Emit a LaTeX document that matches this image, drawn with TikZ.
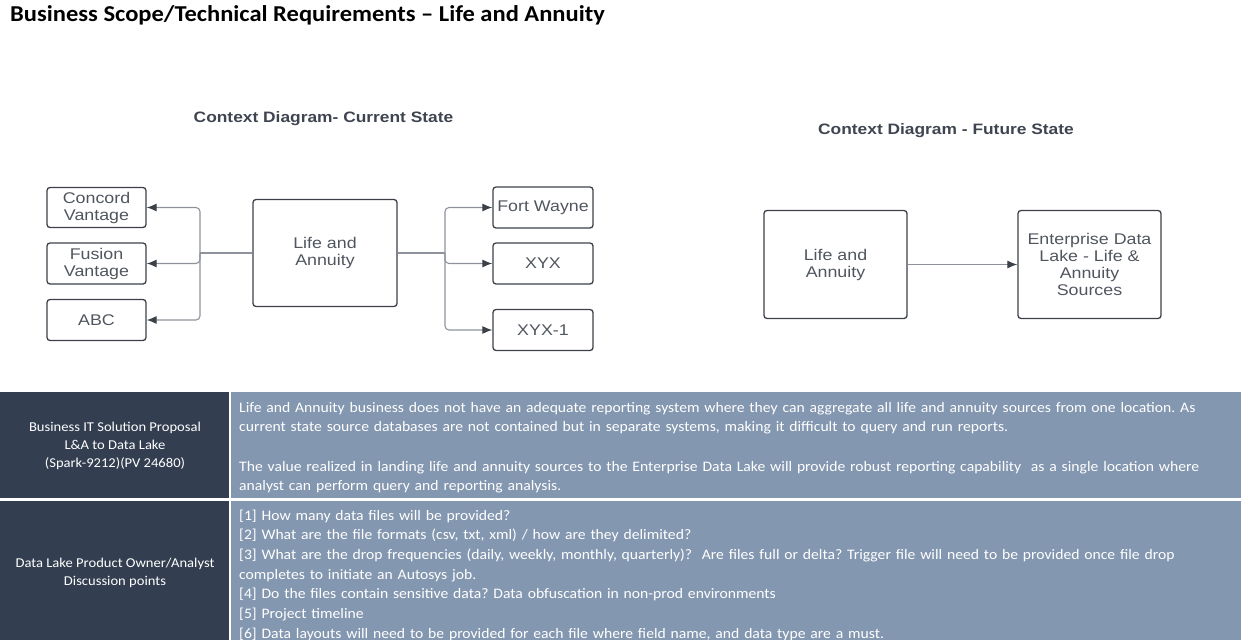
\documentclass[tikz,border=0pt]{standalone}
\usepackage{fontspec}
\setmainfont[FakeStretch=1.08]{Carlito}
\newfontfamily\diagfont[FakeStretch=1.15]{Liberation Sans}
\usetikzlibrary{arrows.meta}
\frenchspacing

\definecolor{boxgray}{HTML}{3C4048}
\definecolor{linegray}{HTML}{8E939B}
\definecolor{labelgray}{HTML}{50555E}
\definecolor{headgray}{HTML}{3F4550}
\definecolor{cellnavy}{HTML}{333F50}
\definecolor{cellslate}{HTML}{8497B0}

\tikzset{
	sysbox/.style={draw=boxgray, line width=1.3pt, rounded corners=3pt, align=center,
		text=labelgray, inner sep=0pt, font=\diagfont\fontsize{15.5}{17}\selectfont},
	link/.style={draw=linegray, line width=1.1pt, rounded corners=4pt,
		-{Latex[length=10pt,width=8pt,color=boxgray]}},
	heading/.style={text=headgray, font=\diagfont\bfseries\fontsize{15.1}{17}\selectfont},
	cellhead/.style={text=white, align=center, font=\fontsize{13.5}{18}\selectfont},
	celltext/.style={text=white, anchor=base west, inner sep=0pt, text width=998pt,
		align=left, font=\fontsize{14.5}{19.7}\selectfont}
}

\begin{document}
\begin{tikzpicture}[x=1pt,y=-1pt]
	\useasboundingbox (0,0) rectangle (1243,640);

	\node[anchor=base west, inner sep=0pt, font=\bfseries\fontsize{22.7}{26}\selectfont] (title) at (10,21)
		{Business Scope/Technical Requirements -- Life and Annuity};

	% current state
	\node[heading] (curhead) at (323.5,119) {Context Diagram- Current State};
	\node[sysbox, minimum width=99pt, minimum height=40pt] (concord) at (96.5,207.5) {Concord\\Vantage};
	\node[sysbox, minimum width=99pt, minimum height=41pt] (fusion) at (96.5,263.5) {Fusion\\Vantage};
	\node[sysbox, minimum width=99pt, minimum height=41pt] (abc) at (96.5,320) {ABC};
	\node[sysbox, minimum width=144pt, minimum height=107pt] (life) at (325,253) {Life and\\Annuity};
	\node[sysbox, minimum width=100pt, minimum height=41pt] (fortwayne) at (543,207.5) {Fort Wayne};
	\node[sysbox, minimum width=100pt, minimum height=41pt] (xyx) at (543,263.5) {XYX};
	\node[sysbox, minimum width=100pt, minimum height=41pt] (xyxone) at (543,330) {XYX-1};

	\coordinate (ljoin) at (200,253);
	\coordinate (rjoin) at (445,253);
	\draw[link, -] (life.west) -- (ljoin);
	\draw[link, -] (life.east) -- (rjoin);
	\foreach \src in {concord,fusion,abc}
		\draw[link] (ljoin) |- (\src.east);
	\foreach \dst in {fortwayne,xyx,xyxone}
		\draw[link] (rjoin) |- (\dst.west);

	% future state
	\node[heading] (futhead) at (946,131) {Context Diagram - Future State};
	\node[sysbox, minimum width=143pt, minimum height=108pt] (lifefut) at (835.5,264.5) {Life and\\Annuity};
	\node[sysbox, minimum width=143pt, minimum height=108pt] (edl) at (1089.5,264.5)
		{Enterprise Data\\Lake - Life \&\\Annuity\\Sources};
	\draw[link] (lifefut) -- (edl);

	% table
	\fill[cellnavy] (0,392) rectangle (229,498);
	\fill[cellslate] (231,392) rectangle (1241,498);
	\fill[cellnavy] (0,501) rectangle (229,640);
	\fill[cellslate] (231,501) rectangle (1241,640);

	\node[cellhead] (prophead) at (115,446)
		{Business IT Solution Proposal\\L\&A to Data Lake\\(Spark-9212)(PV 24680)};
	\node[celltext] (proptext) at (239,412)
		{Life and Annuity business does not have an adequate reporting system where they can aggregate all life and annuity sources from one location. As\\
		current state source databases are not contained but in separate systems, making it difficult to query and run reports.\\[19.7pt]
		The value realized in landing life and annuity sources to the Enterprise Data Lake will provide robust reporting capability \ as a single location where\\
		analyst can perform query and reporting analysis.};

	\node[cellhead] (dischead) at (115,573)
		{Data Lake Product Owner/Analyst\\Discussion points};
	\node[celltext] (disctext) at (239,520)
		{[1] How many data files will be provided?\\{}
		[2] What are the file formats (csv, txt, xml) / how are they delimited?\\{}
		[3] What are the drop frequencies (daily, weekly, monthly, quarterly)? \ Are files full or delta? Trigger file will need to be provided once file drop\\
		completes to initiate an Autosys job.\\{}
		[4] Do the files contain sensitive data? Data obfuscation in non-prod environments\\{}
		[5] Project timeline\\{}
		[6] Data layouts will need to be provided for each file where field name, and data type are a must.};
\end{tikzpicture}
\end{document}
